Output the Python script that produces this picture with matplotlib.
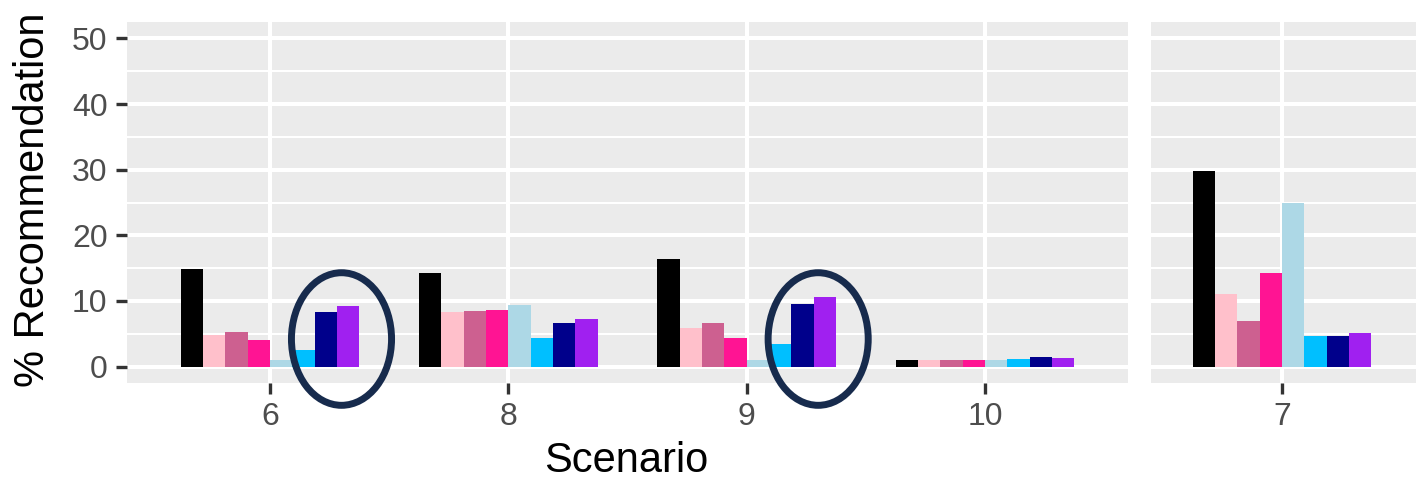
import numpy as np
import matplotlib
matplotlib.use("Agg")
import matplotlib.pyplot as plt
from matplotlib.patches import Ellipse

plt.rcParams['font.family'] = ['Liberation Sans', 'DejaVu Sans']

# scenarios, the last one sits in its own panel
scenarios = ["6", "8", "9", "10", "7"]
n_left = 4

# % recommendation per group, in scenario order above
black = [14.8, 14.2, 16.4, 1.0, 29.8]
pink = [4.8, 8.3, 5.9, 1.0, 11.1]
hotpink3 = [5.3, 8.5, 6.6, 1.0, 6.9]
deeppink = [4.05, 8.6, 4.4, 1.0, 14.3]
lightblue = [1.0, 9.4, 1.0, 1.0, 24.9]
deepskyblue = [2.6, 4.4, 3.4, 1.2, 4.6]
navy = [8.3, 6.6, 9.5, 1.5, 4.6]
purple = [9.2, 7.3, 10.6, 1.3, 5.1]

series = [black, pink, hotpink3, deeppink, lightblue, deepskyblue, navy, purple]
colors = ["#000000", "#FFC0CB", "#CD6090", "#FF1493",
          "#ADD8E6", "#00BFFF", "#00008B", "#A020F0"]

# highlighted scenarios (navy + purple bars)
circled = ["6", "9"]

W, H = 1416, 483
fig = plt.figure(figsize=(W / 100, H / 100), dpi=100)


def px_axes(left, right, top, bottom):
    return fig.add_axes([left / W, 1 - bottom / H, (right - left) / W, (bottom - top) / H])


ax1 = px_axes(127, 1128, 22, 383)
ax2 = px_axes(1151, 1440, 22, 383)

bar_w = 0.75 / len(series)
offsets = (np.arange(len(series)) - (len(series) - 1) / 2) * bar_w


def style(ax, labels, xlim, show_y):
    ax.set_facecolor("#EBEBEB")
    for s in ax.spines.values():
        s.set_visible(False)
    ax.set_ylim(-2.5, 52.5)
    ax.set_xlim(*xlim)
    ax.set_yticks(np.arange(0, 51, 10))
    ax.set_yticks(np.arange(5, 50, 10), minor=True)
    ax.set_xticks(np.arange(len(labels)))
    ax.set_xticklabels(labels)
    ax.grid(which="major", color="white", linewidth=2.9, zorder=0)
    ax.grid(which="minor", axis="y", color="white", linewidth=1.45, zorder=0)
    ax.set_axisbelow(True)
    ax.tick_params(axis="both", which="major", length=8, width=2.4, color="#333333",
                   labelcolor="#4D4D4D", labelsize=23)
    ax.tick_params(axis="x", pad=6)
    ax.tick_params(axis="y", pad=6)
    ax.tick_params(which="minor", length=0)
    if not show_y:
        ax.tick_params(axis="y", left=False, labelleft=False)


style(ax1, scenarios[:n_left], (-0.6, 3.6), True)
style(ax2, scenarios[n_left:], (-0.55, 0.663), False)

for i, (vals, col) in enumerate(zip(series, colors)):
    x1 = np.arange(n_left) + offsets[i]
    ax1.bar(x1, vals[:n_left], width=bar_w, color=col, zorder=2)
    x2 = np.arange(len(scenarios) - n_left) + offsets[i]
    ax2.bar(x2, vals[n_left:], width=bar_w, color=col, zorder=2)

for sc in circled:
    xi = scenarios.index(sc)
    ell = Ellipse((xi + 0.3, 4.2), width=0.42, height=20.2, fill=False,
                  edgecolor="#172B4D", linewidth=5, zorder=5, clip_on=False)
    ax1.add_patch(ell)

fig.text(626 / W, 1 - 461 / H, "Scenario", ha="center", va="center", fontsize=30, color="black")
fig.text(33 / W, 1 - 200 / H, "% Recommendation", ha="center", va="center",
         rotation=90, fontsize=30, color="black")

fig.savefig("out.png", dpi=100)
